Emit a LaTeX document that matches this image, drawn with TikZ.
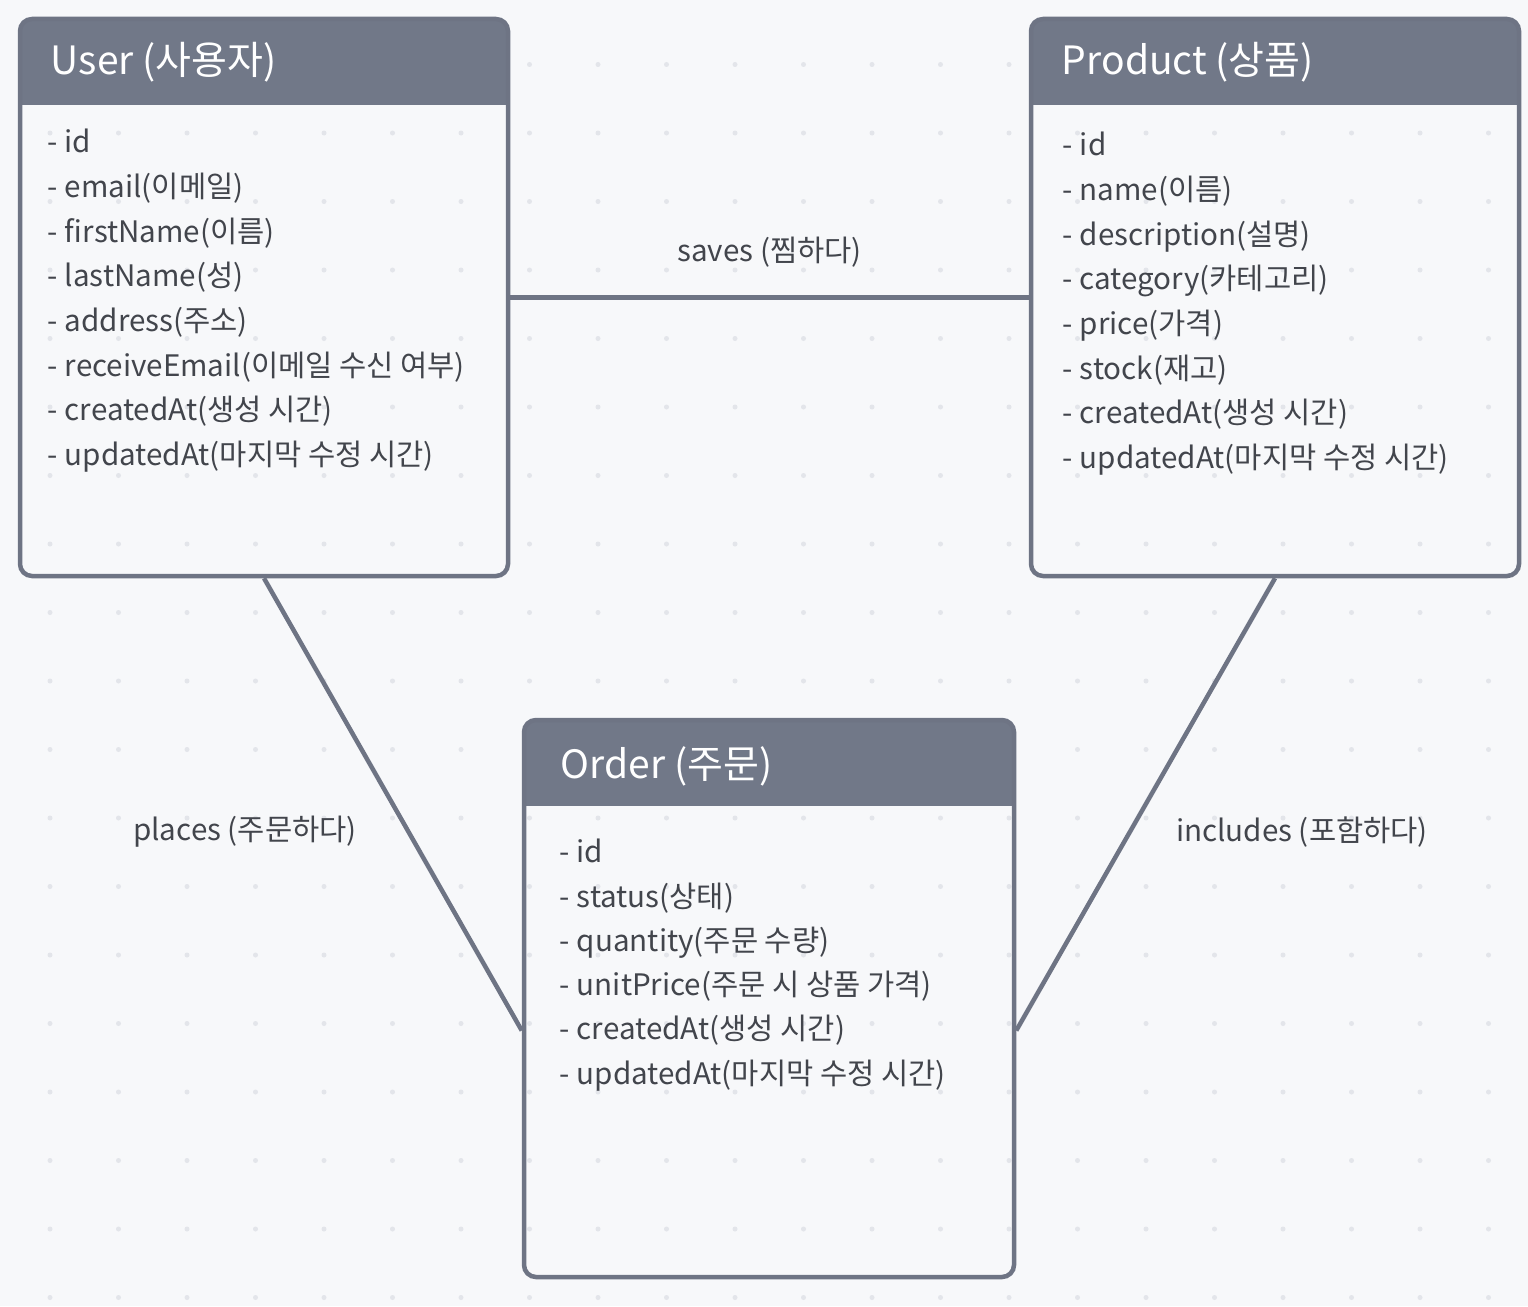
\documentclass[tikz,border=0pt]{standalone}
\usepackage{xcolor}
\usepackage{fontspec}
\setmainfont{Noto Sans CJK KR}
\usepackage{tikz}
\definecolor{bg}{HTML}{F7F8FA}
\definecolor{dotc}{HTML}{E3E5EA}
\definecolor{edge}{HTML}{6E7484}
\definecolor{hdr}{HTML}{717888}
\definecolor{ink}{HTML}{42454C}

\begin{document}
\begin{tikzpicture}[x=1pt, y=-1pt,
  entity/.style={draw=edge, line width=4.5pt, rounded corners=12pt, inner sep=0pt,
    minimum width=488pt, minimum height=557pt,
    path picture={\fill[hdr, sharp corners] (path picture bounding box.north west)
      rectangle ([yshift=-86pt]path picture bounding box.north east);}},
  title/.style={anchor=west, text=white, inner sep=0pt, font=\fontsize{39}{46}\selectfont},
  attr/.style={anchor=base west, text=ink, inner sep=0pt, font=\fontsize{29.6}{36}\selectfont},
  rel/.style={text=ink, inner sep=0pt, font=\fontsize{29.6}{36}\selectfont},
  link/.style={draw=edge, line width=4.5pt}]
  \useasboundingbox (0,0) rectangle (1528,1306);
  \fill[bg] (0,0) rectangle (1528,1306);
  % dotted grid
  \foreach \i in {0,...,21}
    \foreach \j in {0,...,18}
      \fill[dotc] (50+68.5*\i, 64.5+68.5*\j) circle (2.5pt);

  \node[entity] (user) at (264,297.5) {};
  \node[entity] (product) at (1275,297.5) {};
  \node[entity, minimum width=490pt] (order) at (769,998.5) {};

  \node[title] (usert) at ([shift={(33,45)}]user.north west) {User (사용자)};
  \node[title] (productt) at ([shift={(33,45)}]product.north west) {Product (상품)};
  \node[title] (ordert) at ([shift={(39,49)}]order.north west) {Order (주문)};

  \foreach \t [count=\i from 0] in {{- id}, {- email(이메일)}, {- firstName(이름)},
      {- lastName(성)}, {- address(주소)}, {- receiveEmail(이메일 수신 여부)},
      {- createdAt(생성 시간)}, {- updatedAt(마지막 수정 시간)}}
    \node[attr] (user\i) at ([shift={(30,136+44.7*\i)}]user.north west) {\t};
  \foreach \t [count=\i from 0] in {{- id}, {- name(이름)}, {- description(설명)},
      {- category(카테고리)}, {- price(가격)}, {- stock(재고)},
      {- createdAt(생성 시간)}, {- updatedAt(마지막 수정 시간)}}
    \node[attr] (product\i) at ([shift={(34,139+44.7*\i)}]product.north west) {\t};
  \foreach \t [count=\i from 0] in {{- id}, {- status(상태)}, {- quantity(주문 수량)},
      {- unitPrice(주문 시 상품 가격)}, {- createdAt(생성 시간)},
      {- updatedAt(마지막 수정 시간)}}
    \node[attr] (order\i) at ([shift={(38,145+44.3*\i)}]order.north west) {\t};

  \draw[link] (user) -- node[rel, midway, above=28pt] (saves) {saves (찜하다)} (product);
  \draw[link] (user.south) -- ([yshift=-32pt]order.west);
  \draw[link] (product.south) -- ([yshift=-32pt]order.east);
  \node[rel] (places) at (245,832) {places (주문하다)};
  \node[rel] (includes) at (1302,832) {includes (포함하다)};
\end{tikzpicture}
\end{document}
